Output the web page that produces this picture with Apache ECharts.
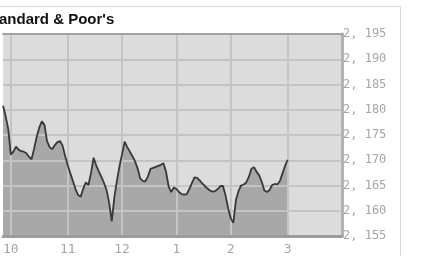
<!DOCTYPE html>
<html>
<head>
<meta charset="utf-8">
<script src="https://cdn.jsdelivr.net/npm/echarts@6/dist/echarts.min.js"></script>
<style>
  html, body { margin: 0; padding: 0; background: #fff; }
  #main { width: 430px; height: 256px; }
</style>
</head>
<body>
<div id="main"></div>
<script>
// month labels and the trading-day index where each month starts
var monthLabels = ['10', '11', '12', '1', '2', '3'];
var monthStartIdx = [3, 25, 46, 67, 88, 110];
var dayCount = 132;

// daily closes
var closes = [
  2180.8, 2178.7, 2176.2, 2171.1, 2171.7, 2172.7, 2172.1, 2171.8, 2171.7, 2171.4,
  2170.7, 2170.2, 2172.3, 2174.6, 2176.5, 2177.7, 2177.0, 2173.8, 2172.6, 2172.2,
  2173.0, 2173.6, 2173.8, 2172.9, 2170.8, 2169.0, 2167.4, 2165.9, 2164.3, 2163.1,
  2162.8, 2164.4, 2165.6, 2165.1, 2167.5, 2170.5, 2169.0, 2167.8, 2166.7, 2165.5,
  2164.1, 2161.6, 2157.9, 2162.6, 2165.9, 2168.8, 2171.2, 2173.7, 2172.6, 2171.7,
  2170.8, 2169.8, 2168.4, 2166.4, 2165.9, 2165.8, 2166.8, 2168.3, 2168.5, 2168.7,
  2168.9, 2169.1, 2169.4, 2167.7, 2164.8, 2163.7, 2164.6, 2164.3, 2163.7, 2163.3,
  2163.2, 2163.3, 2164.3, 2165.5, 2166.6, 2166.5, 2166.0, 2165.4, 2164.9, 2164.4,
  2164.0, 2163.8, 2163.9, 2164.3, 2164.9, 2164.9, 2163.0, 2160.5, 2158.5, 2157.6,
  2162.1, 2163.9, 2165.0, 2165.2, 2165.6, 2166.7, 2168.3, 2168.6, 2167.7, 2167.0,
  2165.7, 2164.0, 2163.7, 2164.1, 2165.1, 2165.3, 2165.2, 2165.9, 2167.4, 2168.9,
  2170.1
];

var yMin = 2155, yMax = 2195, yStep = 5;

var days = [];
for (var i = 0; i < dayCount; i++) {
  var m = monthStartIdx.indexOf(i);
  days.push(m >= 0 ? monthLabels[m] : '');
}
var isMonthStart = function (idx) { return monthStartIdx.indexOf(idx) >= 0; };

var myChart = echarts.init(document.getElementById('main'));
myChart.setOption({
  animation: false,
  graphic: [{
    type: 'rect', z: -10,
    shape: { x: -5, y: 6.5, width: 405.5, height: 260 },
    style: { fill: null, stroke: '#d6d6d6', lineWidth: 1 }
  }, {
    // title sits partly outside the frame on the left, like the original crop
    type: 'text', left: -16, top: 12, z: 10,
    style: {
      text: 'Standard & Poor\'s', fill: '#111',
      font: 'bold 15px "Liberation Sans"'
    }
  }],
  grid: {
    left: 0, right: 88, top: 34, bottom: 16,
    show: true, backgroundColor: '#dcdcdc', borderWidth: 0
  },
  xAxis: [{
    type: 'category', data: days, boundaryGap: false, z: 2,
    axisLine: { show: true, lineStyle: { color: '#9c9c9c', width: 3 } },
    axisTick: { show: false },
    axisLabel: {
      interval: function (idx) { return isMonthStart(idx); },
      color: '#a6a6a6', fontFamily: 'DejaVu Sans Mono', fontSize: 13, margin: 7
    },
    splitLine: {
      show: true,
      interval: function (idx) { return isMonthStart(idx); },
      lineStyle: { color: '#c4c4c4', width: 2 }
    }
  }, {
    type: 'category', data: days, boundaryGap: false, position: 'top', z: 4,
    axisLine: { show: true, lineStyle: { color: '#a2a2a2', width: 2 } },
    axisTick: { show: false }, axisLabel: { show: false }, splitLine: { show: false }
  }],
  yAxis: {
    type: 'value', position: 'right', min: yMin, max: yMax, interval: yStep, z: 2,
    axisLine: { show: true, lineStyle: { color: '#b2b2b2', width: 3 } },
    axisTick: { show: false },
    axisLabel: {
      color: '#a6a6a6', fontFamily: 'DejaVu Sans Mono', fontSize: 12, margin: 1,
      formatter: function (v) { return v.toLocaleString('en-US').replace(',', ', '); }
    },
    splitLine: { lineStyle: { color: '#c4c4c4', width: 2 } }
  },
  series: [{
    type: 'line', data: closes, z: 1, symbol: 'none',
    lineStyle: { width: 0 },
    areaStyle: { color: '#a8a8a8', opacity: 1 }
  }, {
    type: 'line', data: closes, z: 3, symbol: 'none',
    lineStyle: { color: '#383838', width: 1.8 }
  }]
});
</script>
</body>
</html>
